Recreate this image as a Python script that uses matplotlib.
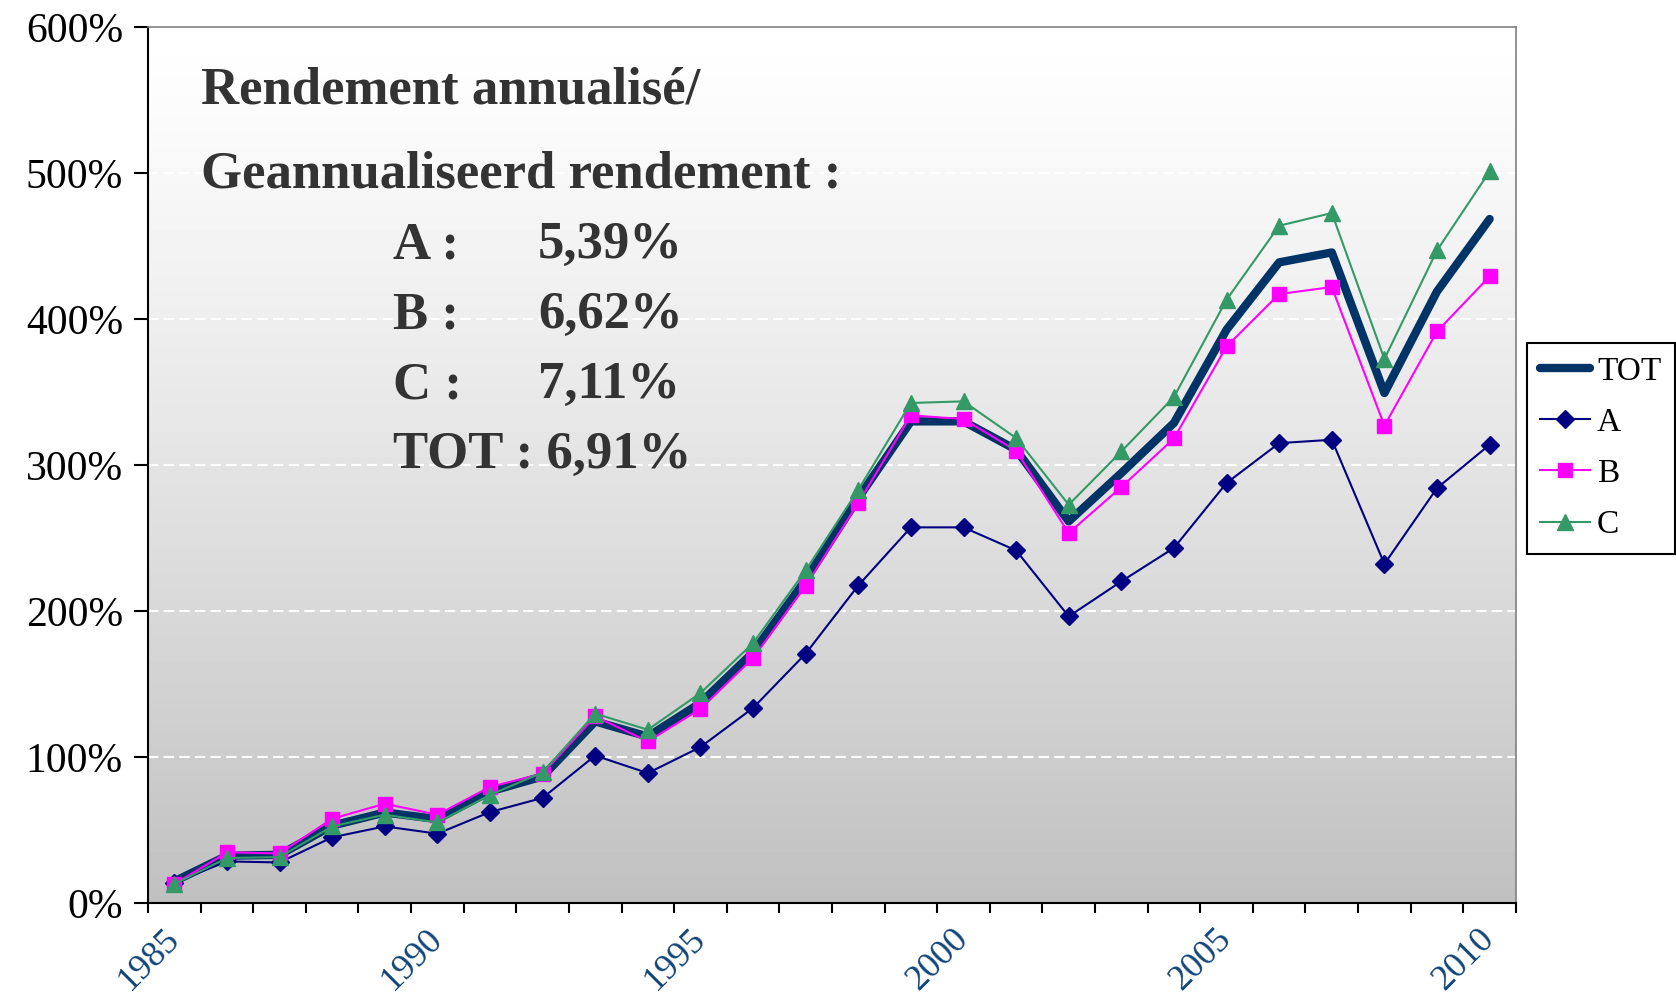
import numpy as np
import matplotlib
matplotlib.use("Agg")
import matplotlib.pyplot as plt
from matplotlib.ticker import FuncFormatter

plt.rcParams['font.family'] = ['Liberation Serif', 'DejaVu Serif']

# Cumulative return per year (%)
years = list(range(1985, 2011))
tot = [14.8, 32.4, 33.0, 53.0, 62.0, 57.5, 76.4, 86.7, 124.4, 114.0, 137.0, 171.6, 221.4,
       277.4, 329.9, 329.9, 310.5, 261.4, 294.5, 328.8, 392.7, 438.8, 445.6, 349.3, 418.9, 468.5]
a = [14.0, 28.5, 27.8, 45.0, 52.5, 47.5, 62.3, 72.0, 101.0, 89.0, 106.8, 133.6, 170.8,
     217.5, 257.3, 257.3, 241.5, 196.3, 220.3, 243.2, 287.7, 315.0, 317.3, 232.2, 284.2, 313.9]
b = [13.0, 34.7, 34.0, 57.7, 68.0, 60.5, 79.5, 88.6, 127.8, 110.7, 132.9, 167.8, 217.3,
     274.0, 334.0, 331.5, 309.8, 253.4, 284.9, 318.2, 381.2, 417.1, 421.9, 326.9, 391.5, 429.2]
c = [13.0, 30.8, 31.5, 52.5, 60.5, 55.2, 74.0, 89.5, 129.7, 118.7, 143.8, 178.0, 227.8,
     283.0, 342.5, 343.6, 318.5, 272.8, 309.3, 346.6, 413.2, 463.9, 472.6, 372.6, 447.0, 501.1]

labeled_years = [1985, 1990, 1995, 2000, 2005, 2010]
summary_names = ["A :", "B :", "C :"]
summary_values = ["5,39%", "6,62%", "7,11%"]
summary_tot = "TOT : 6,91%"

fig = plt.figure(figsize=(16.76, 9.93), dpi=100)
ax = fig.add_axes([0.0883, 0.0906, 0.8162, 0.8822])

x = np.arange(len(years))

# background gradient white (top) -> silver (bottom)
grad = np.linspace(0, 1, 256) ** 1.2
grad = (255 - 63 * grad)[:, None] / 255.0
ax.imshow(grad, cmap='gray', vmin=0, vmax=1, aspect='auto', extent=[0, 1, 0, 1],
          origin='upper', transform=ax.transAxes, zorder=0, interpolation='bilinear')

for val in range(100, 600, 100):
    ax.axhline(val, color='white', lw=1.5, ls=(0, (5, 2.5)), zorder=1)

ax.plot(x, tot, color='#003366', lw=6, solid_capstyle='round', solid_joinstyle='round',
        label='TOT', zorder=2)
ax.plot(x, a, color='#000080', lw=1.5, marker='D', ms=9, label='A', zorder=3)
ax.plot(x, b, color='#FF00FF', lw=1.5, marker='s', ms=10, label='B', zorder=4)
ax.plot(x, c, color='#339966', lw=1.5, marker='^', ms=11, label='C', zorder=5)

ax.set_xlim(-0.5, len(years) - 0.5)
ax.set_ylim(0, 600)

ax.set_yticks(range(0, 601, 100))
ax.yaxis.set_major_formatter(FuncFormatter(lambda v, p: f"{v:.0f}%"))
ax.tick_params(axis='y', direction='out', length=10, width=1.5, labelsize=30, pad=8)

ax.set_xticks(np.arange(-0.5, len(years), 1))
ax.set_xticklabels([])
ax.tick_params(axis='x', which='major', direction='out', length=7, width=1.5)
ax.set_xticks([years.index(yr) for yr in labeled_years], minor=True)
ax.set_xticklabels([str(yr) for yr in labeled_years], minor=True, rotation=45,
                   ha='right', va='center', rotation_mode='anchor', color='#114477',
                   fontsize=26)
ax.tick_params(axis='x', which='minor', length=0, pad=22)

for side in ['left', 'bottom']:
    ax.spines[side].set_color('black')
    ax.spines[side].set_linewidth(1.5)
for side in ['top', 'right']:
    ax.spines[side].set_color('#808080')
    ax.spines[side].set_linewidth(1.2)

# summary text box
txt = dict(transform=ax.transAxes, fontsize=38, fontweight='bold', color='#333333',
           va='baseline', ha='left')
ax.text(0.039, 0.913, "Rendement annualisé/", **txt)
ax.text(0.039, 0.817, "Geannualiseerd rendement :", **txt)
rows_y = [0.736, 0.656, 0.576]
for name, val, yy in zip(summary_names, summary_values, rows_y):
    ax.text(0.179, yy, name, **txt)
    ax.text(0.285, yy, val, **txt)
ax.text(0.179, 0.497, summary_tot, **txt)

leg = ax.legend(loc='upper left', bbox_to_anchor=(0.9111, 0.6546),
                bbox_transform=fig.transFigure, fontsize=24, frameon=True,
                fancybox=False, framealpha=1, edgecolor='black', borderpad=0.4,
                handlelength=1.5, handletextpad=0.2, labelspacing=0.62, borderaxespad=0)
leg.get_frame().set_linewidth(1.5)

fig.savefig('out.png', dpi=100)
